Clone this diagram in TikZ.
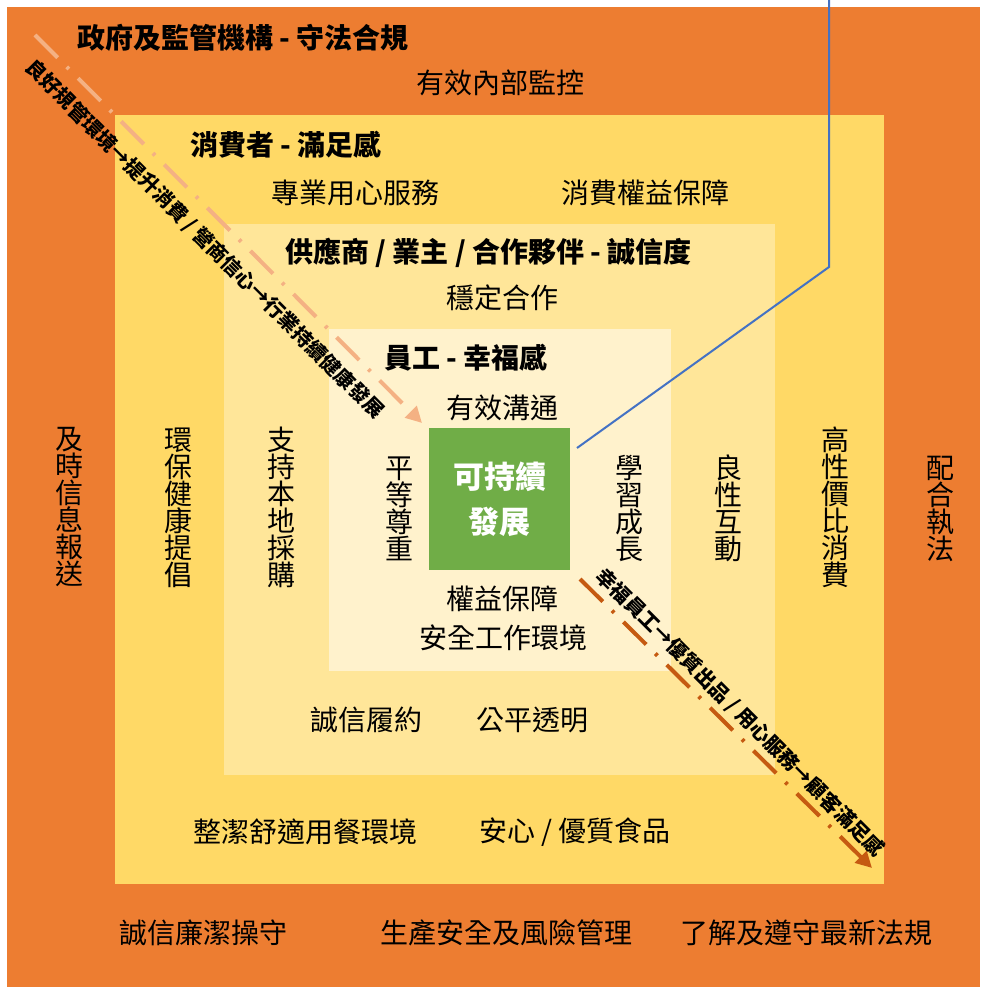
\documentclass[tikz,border=0pt]{standalone}
\usepackage{fontspec}
\setmainfont{Noto Sans CJK TC}
\usetikzlibrary{arrows.meta}
\definecolor{cOrange}{HTML}{ED7D31}
\definecolor{cYellowA}{HTML}{FFD966}
\definecolor{cYellowB}{HTML}{FFE699}
\definecolor{cCream}{HTML}{FFF2CC}
\definecolor{cGreen}{HTML}{70AD47}
\definecolor{cBlue}{HTML}{4472C4}
\definecolor{cSalmon}{HTML}{F4B183}
\definecolor{cRust}{HTML}{C55A11}
\begin{document}
\begin{tikzpicture}[x=1pt,y=-1pt,
  lvl/.style={inner sep=0pt, outer sep=0pt, anchor=north west},
  reg/.style={font=\fontsize{28}{27}\selectfont, inner sep=0pt, align=center, text=black},
  ttl/.style={font=\bfseries\fontsize{28}{30}\selectfont, inner sep=0pt, anchor=west, text=black},
  diag/.style={font=\bfseries\fontsize{20}{22}\selectfont, inner sep=0pt, rotate=-45, text=black},
  flow/.style={line width=4pt, dash pattern=on 32pt off 13pt on 3pt off 13pt,
     -{Triangle[length=16pt,width=16pt]}},
  blueline/.style={draw=cBlue, line width=2pt, line join=miter}
]
\useasboundingbox (0,0) rectangle (980,987);
% levels
\node[lvl, fill=cOrange, minimum width=973pt, minimum height=980pt] (gov) at (7,7) {};
\node[lvl, fill=cYellowA, minimum width=769pt, minimum height=769pt] (cons) at (115,115) {};
\node[lvl, fill=cYellowB, minimum width=551pt, minimum height=551pt] (supp) at (224,224) {};
\node[lvl, fill=cCream, minimum width=342pt, minimum height=342pt] (emp) at (329,329) {};
\node[inner sep=0pt, fill=cGreen, minimum width=141pt, minimum height=142pt,
      text=white, font=\bfseries\fontsize{31}{45}\selectfont, align=center] (core) at (499.5,499) {可持續\\發展};

% flow arrows
\coordinate (upS) at (35,35);
\coordinate (upE) at (422,423);
\draw[flow, cSalmon] (upS) -- (upE);
\coordinate (loS) at (580,579);
\coordinate (loE) at (872,868);
\draw[flow, cRust] (loS) -- (loE);
\node[diag] (upT) at (204.5,239.5) {良好規管環境→提升消費 / 營商信心→行業持續健康發展};
\node[diag] (loT) at (740,712.5) {幸福員工→優質出品 / 用心服務→顧客滿足感};

% government level
\node[ttl] (govT) at (77,38) {政府及監管機構 - 守法合規};
\node[reg] (g1) at (500,83) {有效內部監控};
\node[reg] (g2) at (69,507.5) {及\\時\\信\\息\\報\\送};
\node[reg] (g3) at (940,508.5) {配\\合\\執\\法};
\node[reg] (g4) at (203,933) {誠信廉潔操守};
\node[reg] (g5) at (506,933) {生產安全及風險管理};
\node[reg] (g6) at (806,933) {了解及遵守最新法規};

% consumer level
\node[ttl] (consT) at (190,145) {消費者 - 滿足感};
\node[reg] (c1) at (355,193) {專業用心服務};
\node[reg] (c2) at (645,193) {消費權益保障};
\node[reg] (c3) at (178,507.5) {環\\保\\健\\康\\提\\倡};
\node[reg] (c4) at (835,507.5) {高\\性\\價\\比\\消\\費};
\node[reg] (c5) at (305,832) {整潔舒適用餐環境};
\node[reg] (c6) at (575,832) {安心 / 優質食品};

% supplier level
\node[ttl] (suppT) at (285,253) {供應商 / 業主 / 合作夥伴 - 誠信度};
\node[reg] (s1) at (502,298) {穩定合作};
\node[reg] (s2) at (281,507.5) {支\\持\\本\\地\\採\\購};
\node[reg] (s3) at (728,508.5) {良\\性\\互\\動};
\node[reg] (s4) at (366,720) {誠信履約};
\node[reg] (s5) at (532,720) {公平透明};

% employee level
\node[ttl] (empT) at (384,358) {員工 - 幸福感};
\node[reg] (e1) at (502,408) {有效溝通};
\node[reg] (e2) at (399,508.5) {平\\等\\尊\\重};
\node[reg] (e3) at (629,508.5) {學\\習\\成\\長};
\node[reg] (e4) at (502,599) {權益保障};
\node[reg] (e5) at (503,638) {安全工作環境};

% blue callout line
\coordinate (bS) at (577,448);
\coordinate (bM) at (829,267);
\coordinate (bT) at (829,0);
\draw[blueline] (bS) -- (bM) -- (bT);
\end{tikzpicture}
\end{document}
